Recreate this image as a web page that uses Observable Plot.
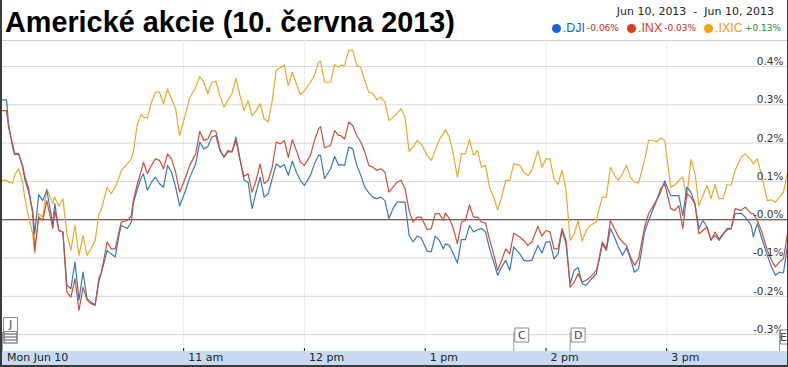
<!DOCTYPE html>
<html><head><meta charset="utf-8">
<script src="https://cdn.jsdelivr.net/npm/d3@7"></script>
<script src="https://cdn.jsdelivr.net/npm/@observablehq/plot@0.6"></script>
<style>
html,body{margin:0;padding:0;background:#fff;}
#wrap{position:relative;width:788px;height:367px;overflow:hidden;background:#fff;}
#title{position:absolute;left:5px;top:6px;line-height:28px;font:bold 28.8px "Liberation Sans",Arial,sans-serif;color:#000;white-space:nowrap;}
#range{position:absolute;right:14px;top:5px;line-height:14px;font:11px "DejaVu Sans",Verdana,sans-serif;color:#222;white-space:pre;}
#legend{position:absolute;right:7px;top:21px;height:14px;display:flex;align-items:center;white-space:nowrap;}
#legend .dot{display:inline-block;width:9px;height:9px;border-radius:50%;margin:0 2px 0 8px;}
#legend .sym{font:12.5px "Liberation Sans",Arial,sans-serif;}
#legend .chg{font:9px "DejaVu Sans",Verdana,sans-serif;margin-left:2px;}
#xbar{position:absolute;left:0;top:351px;width:788px;height:14px;background:#c6daf1;}
#topline{position:absolute;left:0;top:40px;width:788px;height:1px;background:#cfcfcf;}
#chart{position:absolute;left:0;top:40px;}
.bl{position:absolute;left:0;top:0;width:2px;height:367px;background:#3a3a3a;}
.br{position:absolute;right:0;top:0;width:1px;height:367px;background:#3a3a3a;}
.bb{position:absolute;left:0;top:365px;width:788px;height:2px;background:#3a3a3a;}
</style></head>
<body>
<div id="wrap">
  <div id="xbar"></div>
  <div id="topline"></div>
  <div id="chart"></div>
  <div id="title">Americké akcie (10. června 2013)</div>
  <div id="range">Jun 10, 2013  -  Jun 10, 2013</div>
  <div id="legend"></div>
  <div class="bl"></div><div class="br"></div><div class="bb"></div>
</div>
<script>
// minutes after the 9:30 open, Mon Jun 10 2013
const minutesFromOpen = [
  0,2,3,5,6,8,10,11,13,15, 16,18,20,22,25,26,28,30,32,34, 36,38,40,42,44,46,48,49,52,54,
  56,58,59,62,64,65,67,69,70,72, 74,76,78,80,82,84,86,88,91,93, 96,98,100,102,104,106,108,110,112,114,
  116,118,120,122,124,126,
  128,130,132,134,136,138,140,142,144,146, 148,150,153,155,157,158,160,163,165,167,
  168,170,172,174,176,178,180,182,184,186, 188,190,192,194,196,198,200,202,204,206,
  208,211,213,215,217,219,220,222,224,226, 228,230,232,234,236,238,240,242,244,246,
  248,250,252,254,
  257,259,261,263,266,268,270,272,274,276, 278,280,282,284,286,288,290,292,295,296,
  298,300,302,304,306,308,310,312,314,316, 319,321,323,325,327,329,332,334,336,338,
  340,342,344,346,348,350,352,354,356,358, 360,362,364,367,369,372,373,375,377,380,
  382,384,386,388,390
];
// percent change vs previous close
const dji = [
  0.313,0.313,0.250,0.190,0.170,0.172,0.137,0.107,0.072,0.024,
  -0.037,0.066,0.050,0.077,-0.010,0.042,-0.028,-0.032,-0.171,-0.180,
  -0.110,-0.210,-0.137,-0.206,-0.215,-0.223,-0.158,-0.141,-0.080,-0.089,
  -0.097,-0.037,-0.015,-0.023,-0.006,0.042,0.081,0.111,0.120,0.077,
  0.098,0.111,0.094,0.085,0.142,0.124,0.085,0.036,0.077,0.110,
  0.146,0.203,0.185,0.191,0.216,0.220,0.181,0.163,0.177,0.177,
  0.216,0.159,0.104,0.098,0.029,0.072,
  0.111,0.059,0.068,0.107,0.146,0.137,0.144,0.116,0.153,0.124,
  0.103,0.090,0.116,0.146,0.168,0.168,0.107,0.133,0.165,0.142,
  0.144,0.142,0.190,0.185,0.142,0.116,0.085,0.070,0.059,0.055,
  0.059,0.050,0.003,0.029,0.046,0.046,0.046,-0.041,-0.058,-0.043,
  -0.047,-0.082,-0.084,-0.043,-0.054,-0.076,-0.063,-0.067,-0.089,-0.113,
  -0.052,-0.052,-0.015,-0.032,-0.026,-0.023,-0.032,-0.076,-0.110,-0.145,
  -0.123,-0.106,-0.132,-0.071,
  -0.089,-0.106,-0.108,-0.106,-0.067,-0.087,-0.058,-0.058,-0.102,-0.089,
  -0.028,-0.063,-0.167,-0.132,-0.125,-0.167,-0.171,-0.158,-0.141,-0.115,
  -0.063,-0.080,-0.023,-0.045,-0.071,-0.093,-0.073,-0.102,-0.137,-0.128,
  -0.032,-0.002,0.024,0.050,0.072,0.101,0.063,0.063,0.063,0.011,
  0.085,0.072,0.042,-0.023,-0.002,-0.019,-0.052,-0.041,-0.054,-0.038,
  -0.026,-0.023,0.016,0.017,0.007,-0.015,-0.045,-0.010,-0.045,-0.093,
  -0.123,-0.145,-0.137,-0.139,-0.067
];
const inx = [
  0.285,0.285,0.242,0.198,0.174,0.172,0.142,0.116,0.081,0.016,
  -0.080,0.007,-0.002,0.050,-0.023,0.024,-0.028,-0.032,-0.189,-0.202,
  -0.154,-0.237,-0.176,-0.210,-0.219,-0.223,-0.150,-0.141,-0.058,-0.076,
  -0.076,-0.028,-0.006,-0.002,0.011,0.050,0.094,0.129,0.150,0.120,
  0.142,0.159,0.155,0.133,0.172,0.159,0.124,0.072,0.111,0.142,
  0.172,0.231,0.207,0.211,0.233,0.231,0.185,0.163,0.181,0.177,
  0.207,0.155,0.113,0.120,0.072,0.103,
  0.146,0.094,0.103,0.137,0.203,0.198,0.207,0.163,0.209,0.181,
  0.150,0.142,0.168,0.207,0.237,0.243,0.188,0.194,0.233,0.220,
  0.220,0.211,0.255,0.246,0.220,0.203,0.177,0.142,0.137,0.129,
  0.133,0.124,0.072,0.085,0.098,0.103,0.081,0.024,-0.006,0.007,
  0.007,-0.026,-0.023,0.016,0.016,-0.002,0.017,0.003,-0.023,-0.063,
  -0.006,-0.002,0.039,0.007,0.007,-0.006,-0.009,-0.052,-0.089,-0.132,
  -0.106,-0.076,-0.089,-0.035,
  -0.045,-0.054,-0.067,-0.058,-0.017,-0.043,-0.028,-0.032,-0.076,-0.076,
  -0.023,-0.054,-0.176,-0.163,-0.141,-0.163,-0.158,-0.150,-0.132,-0.113,
  -0.058,-0.076,-0.002,-0.023,-0.045,-0.058,-0.067,-0.097,-0.119,-0.102,
  -0.019,0.016,0.033,0.052,0.081,0.094,0.029,0.024,0.037,-0.023,
  0.068,0.059,0.042,-0.037,-0.028,-0.019,-0.054,-0.032,-0.050,-0.037,
  -0.023,-0.023,0.029,0.024,0.033,0.016,0.016,-0.002,-0.028,-0.080,
  -0.106,-0.123,-0.110,-0.102,-0.037
];
const ixic = [
  0.103,0.103,0.098,0.096,0.116,0.133,0.098,0.059,0.007,-0.037,
  -0.087,0.016,0.007,0.081,0.042,0.059,0.035,0.055,-0.037,-0.080,
  -0.015,-0.093,-0.041,-0.093,-0.076,-0.054,0.016,0.024,0.085,0.068,
  0.085,0.111,0.129,0.146,0.159,0.177,0.250,0.275,0.268,0.266,
  0.307,0.333,0.333,0.303,0.342,0.316,0.290,0.220,0.277,0.318,
  0.346,0.374,0.359,0.329,0.359,0.362,0.324,0.294,0.311,0.329,
  0.370,0.324,0.285,0.311,0.272,0.285,
  0.303,0.263,0.255,0.311,0.390,0.397,0.403,0.350,0.385,0.355,
  0.327,0.337,0.359,0.377,0.411,0.414,0.359,0.359,0.405,0.398,
  0.403,0.403,0.443,0.443,0.403,0.398,0.363,0.333,0.330,0.313,
  0.320,0.307,0.259,0.268,0.278,0.290,0.268,0.178,0.190,0.207,
  0.198,0.168,0.155,0.181,0.209,0.224,0.235,0.216,0.172,0.111,
  0.172,0.172,0.209,0.168,0.181,0.137,0.142,0.085,0.059,0.026,
  0.059,0.103,0.103,0.146,
  0.142,0.124,0.116,0.129,0.181,0.137,0.159,0.159,0.107,0.092,
  0.129,0.077,-0.054,-0.037,-0.002,-0.056,-0.028,-0.015,-0.006,0.020,
  0.059,0.059,0.137,0.116,0.103,0.120,0.142,0.111,0.098,0.096,
  0.155,0.207,0.207,0.203,0.214,0.207,0.085,0.090,0.103,0.111,
  0.055,0.157,0.122,0.037,0.063,0.090,0.055,0.092,0.055,0.055,
  0.092,0.090,0.129,0.163,0.172,0.155,0.146,0.159,0.120,0.050,
  0.052,0.046,0.059,0.072,0.124
];
const seriesNames = [".DJI", ".INX", ".IXIC"];
const seriesChanges = ["-0.06%", "-0.03%", "+0.13%"];
const yTickValues = [-0.3, -0.2, -0.1, 0, 0.1, 0.2, 0.3, 0.4];
const yTickLabels = ["-0.3%", "-0.2%", "-0.1%", "-0.0%", "0.1%", "0.2%", "0.3%", "0.4%"];
const xTickMinutes = [0, 90, 150, 210, 270, 330];
const xTickLabels = ["Mon Jun 10", "11 am", "12 pm", "1 pm", "2 pm", "3 pm"];
const newsMinutes = [0, 254, 282, 386];
const newsLetters = ["J", "C", "D", "E"];

const lineColors = ["#3a78b5", "#c9503a", "#e8a92e"];
const legendDot = ["#1b63d3", "#d8401c", "#f7a012"];
const legendText = ["#1b5fc9", "#d33c18", "#f29a0c"];
const changeColor = ["#cc1f1f", "#cc1f1f", "#1f8a1f"];

const t = m => new Date(Date.UTC(2013, 5, 10, 9, 30 + m));
const seriesValues = [dji, inx, ixic];
const rows = [];
seriesValues.forEach((vals, s) => vals.forEach((v, i) => rows.push({name: seriesNames[s], date: t(minutesFromOpen[i]), value: v})));
const byName = n => rows.filter(r => r.name === n);

const yLabel = new Map(yTickValues.map((v, i) => [v, yTickLabels[i]]));
const xTicks = xTickMinutes.map(t);
const xLabel = new Map(xTicks.map((d, i) => [+d, xTickLabels[i]]));
const hourTicks = xTicks.slice(1);
const news = newsMinutes.map((m, i) => ({date: t(m), letter: newsLetters[i]}));
const jNews = news.filter(d => d.letter === "J");
const midNews = news.filter(d => d.letter === "C" || d.letter === "D");
const eNews = news.filter(d => d.letter === "E");

const flag = (data, dy, dx = 8) => [
  Plot.dot(data, {x: "date", frameAnchor: "bottom", dx: 8, dy, symbol: "square", r: 7.9, fill: "#fff", stroke: "#8a8a8a", strokeWidth: 1}),
  Plot.text(data, {x: "date", text: "letter", frameAnchor: "bottom", dx, dy, lineAnchor: "middle", fontSize: 11, fill: "#444", fontFamily: "DejaVu Sans"})
];

const chart = Plot.plot({
  width: 788, height: 325,
  marginTop: 0, marginBottom: 14, marginLeft: 2, marginRight: 1,
  style: {background: "transparent", fontFamily: "DejaVu Sans, Verdana, sans-serif"},
  x: {type: "utc", domain: [t(0), t(390)]},
  y: {domain: [-0.344, 0.468]},
  marks: [
    Plot.ruleX(hourTicks, {stroke: "#ededed"}),
    Plot.ruleY(yTickValues, {stroke: "#d8d8d8"}),
    Plot.ruleY([0], {stroke: "#5e3434"}),
    Plot.line(byName(".IXIC"), {x: "date", y: "value", stroke: lineColors[2], strokeWidth: 1.2}),
    Plot.line(byName(".DJI"), {x: "date", y: "value", stroke: lineColors[0], strokeWidth: 1.2}),
    Plot.line(byName(".INX"), {x: "date", y: "value", stroke: lineColors[1], strokeWidth: 1.2}),
    Plot.ruleX(hourTicks, {stroke: "#111", insetTop: 308}),
    Plot.axisY(yTickValues, {anchor: "right", tickSize: 0, tickPadding: 0, dx: -4, dy: -5,
      textAnchor: "end", tickFormat: d => yLabel.get(d), fill: "#333", fontSize: 10.5, label: null}),
    Plot.axisX(xTicks, {anchor: "bottom", tickSize: 0, tickPadding: 2, dx: 4.5, textAnchor: "start",
      tickFormat: d => xLabel.get(+d), fill: "#222", fontSize: 11, label: null}),
    // news flag poles
    Plot.ruleX(news, {x: "date", stroke: "#9a9a9a", insetTop: 292}),
    // stacked flags under J
    ...[12, 9, 6, 3].map(k => Plot.dot(jNews, {x: "date", frameAnchor: "bottom", dx: 8, dy: -27 + k, symbol: "square", r: 7.2, fill: "#fff", stroke: "#8a8a8a"})),
    ...flag(jNews, -27),
    ...flag(midNews, -16.5),
    ...flag(eNews, -14.5, 4)
  ]
});
document.getElementById("chart").appendChild(chart);

const legend = document.getElementById("legend");
seriesNames.forEach((n, i) => {
  legend.insertAdjacentHTML("beforeend",
    `<span class="dot" style="background:${legendDot[i]}"></span><span class="sym" style="color:${legendText[i]}">${n}</span><span class="chg" style="color:${changeColor[i]}">${seriesChanges[i]}</span>`);
});
</script>
</body></html>
